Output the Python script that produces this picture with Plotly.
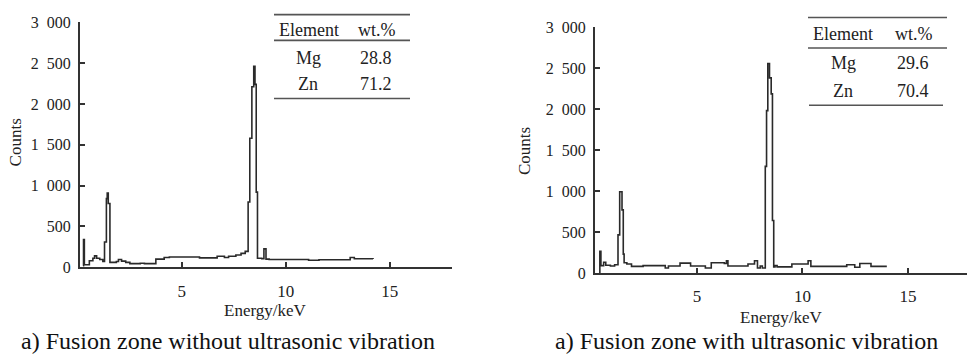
import plotly.graph_objects as go

W, H = 969, 363

# ---------------- data ----------------
left_energy = [0.25, 0.27, 0.31, 0.55, 0.72, 0.80, 0.90, 1.05, 1.20, 1.28, 1.37, 1.41, 1.46, 1.54,
               1.85, 1.95, 2.10, 2.30, 2.50, 3.00, 3.20, 3.75, 4.15, 4.40, 5.85, 6.70, 7.05, 7.25,
               7.60, 7.85, 8.05, 8.19, 8.27, 8.37, 8.46, 8.52, 8.58, 8.64, 8.85, 8.95, 9.05, 9.20,
               11.10, 11.60, 13.10, 13.30, 14.20]
left_counts = [20, 340, 30, 80, 110, 140, 110, 95, 70, 310, 840, 910, 780, 60,
               70, 95, 75, 60, 45, 50, 45, 100, 120, 125, 115, 135, 120, 135,
               150, 170, 195, 800, 1580, 2210, 2460, 2240, 920, 110, 105, 225, 100, 95,
               85, 92, 120, 105, 100]

right_energy = [0.39, 0.40, 0.45, 0.58, 0.68, 0.90, 1.10, 1.26, 1.34, 1.45, 1.51, 1.55, 1.68, 1.90,
                2.45, 3.50, 3.65, 4.20, 4.70, 5.40, 5.68, 6.30, 6.40, 6.47, 7.42, 7.73, 7.87, 8.00,
                8.10, 8.24, 8.30, 8.36, 8.44, 8.52, 8.58, 8.64, 8.70, 8.80, 9.50, 10.27, 10.40,
                12.10, 12.48, 12.72, 13.25, 14.00]
right_counts = [0, 265, 90, 130, 95, 85, 100, 465, 990, 770, 230, 125, 110, 80,
                90, 60, 85, 120, 85, 60, 125, 115, 150, 85, 110, 150, 60, 85,
                60, 1300, 1980, 2555, 2380, 2185, 640, 75, 90, 75, 110, 150, 80,
                100, 70, 115, 80, 80]

y_tickvals = [0, 500, 1000, 1500, 2000, 2500, 3000]
y_ticktext = ["0", "500", "1\u2002000", "1\u2002500", "2\u2002000", "2\u2002500", "3\u2002000"]
x_tickvals = [5, 10, 15]

table_header = ["Element", "wt.%"]
table_elements = ["Mg", "Zn"]
left_wt = ["28.8", "71.2"]
right_wt = ["29.6", "70.4"]

captions = ["a) Fusion zone without ultrasonic vibration",
            "a) Fusion zone with ultrasonic vibration"]

# ---------------- helpers ----------------
def px(x):
    return x / W


def py(y):
    return 1 - y / H


SERIF = "Liberation Serif"
TXT = "#222222"
LINE = "#2a2a2a"

fig = go.Figure()
fig.add_trace(go.Scatter(x=left_energy, y=left_counts, mode="lines", line_shape="hv",
                         line=dict(color=LINE, width=1.6), xaxis="x", yaxis="y",
                         showlegend=False, hoverinfo="skip"))
fig.add_trace(go.Scatter(x=right_energy, y=right_counts, mode="lines", line_shape="hv",
                         line=dict(color=LINE, width=1.6), xaxis="x2", yaxis="y2",
                         showlegend=False, hoverinfo="skip"))

common_x = dict(showgrid=False, zeroline=False, showline=True, linecolor="#333333", linewidth=2,
                ticks="inside", ticklen=5, tickwidth=1.5, tickcolor="#333333",
                tickvals=x_tickvals, ticktext=[str(v) for v in x_tickvals],
                tickfont=dict(family=SERIF, size=17, color=TXT), ticklabelstandoff=7)
common_y = dict(showgrid=False, zeroline=False, showline=True, linecolor="#333333", linewidth=2,
                ticks="inside", ticklen=5, tickwidth=1.5, tickcolor="#333333",
                tickvals=y_tickvals, ticktext=y_ticktext, range=[0, 3000],
                tickfont=dict(family=SERIF, size=16, color=TXT), ticklabelstandoff=4)

fig.update_layout(
    width=W, height=H, margin=dict(l=0, r=0, t=0, b=0),
    paper_bgcolor="white", plot_bgcolor="white",
    font=dict(family=SERIF),
    xaxis=dict(domain=[px(80), px(452)], range=[0.1, 18.0], anchor="y", **common_x),
    yaxis=dict(domain=[py(272), py(15)], anchor="x", **common_y),
    xaxis2=dict(domain=[px(595), px(967)], range=[0.17, 17.8], anchor="y2", **common_x),
    yaxis2=dict(domain=[py(278), py(20)], anchor="x2", **common_y),
)

annotations = []
shapes = []


def text(x, y, s, size, color=TXT, angle=0):
    annotations.append(dict(x=px(x), y=py(y), xref="paper", yref="paper", text=s,
                            showarrow=False, xanchor="center", yanchor="middle",
                            textangle=angle, font=dict(family=SERIF, size=size, color=color)))


def hline(x0, x1, y):
    shapes.append(dict(type="line", xref="paper", yref="paper", x0=px(x0), x1=px(x1),
                       y0=py(y), y1=py(y), line=dict(color="#555555", width=1.6)))


# axis titles
text(15, 141, "Counts", 17, angle=-90)
text(265, 317, "Energy/keV", 17)
text(525, 150, "Counts", 17, angle=-90)
text(781, 325, "Energy/keV", 17)

# captions
text(228, 349, captions[0], 24, color="#111111")
text(746, 349, captions[1], 24, color="#111111")

# left table
hline(274, 410, 7)
hline(274, 410, 34)
hline(274, 410, 95)
text(309, 23, table_header[0], 18)
text(377, 23, table_header[1], 18)
for i, (el, wt) in enumerate(zip(table_elements, left_wt)):
    yy = 52 + i * 28
    text(308, yy, el, 18)
    text(376, yy, wt, 18)

# right table
hline(808, 947, 10)
hline(808, 947, 42)
hline(809, 943, 102)
text(843, 27, table_header[0], 18)
text(914, 27, table_header[1], 18)
for i, (el, wt) in enumerate(zip(table_elements, right_wt)):
    yy = 58 + i * 29
    text(843, yy, el, 18)
    text(913, yy, wt, 18)

fig.update_layout(annotations=annotations, shapes=shapes)
fig.write_html("out.html")
